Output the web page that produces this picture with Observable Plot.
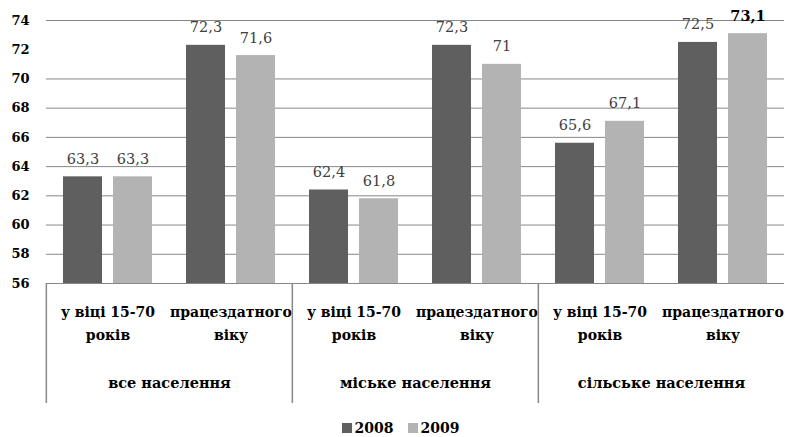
<!DOCTYPE html>
<html>
<head>
<meta charset="utf-8">
<script src="https://cdn.jsdelivr.net/npm/d3@7"></script>
<script src="https://cdn.jsdelivr.net/npm/@observablehq/plot@0.6"></script>
<style>
  body { margin: 0; background: #fff; font-family: "DejaVu Serif", serif; }
  #chart svg { display: block; }
  .legend { display: flex; justify-content: center; align-items: center; height: 19px; margin-left: 16px;
            font-family: "DejaVu Serif", serif; font-weight: bold; font-size: 14px; color: #000; }
  .legend span.sw { display: inline-block; width: 10px; height: 10px; margin-right: 3px; }
  .legend span.item { display: inline-flex; align-items: center; margin: 0 7px; }
</style>
</head>
<body>
<div id="chart"></div>
<div class="legend" id="legend"></div>
<script>
const groups = ["все населення", "міське населення", "сільське населення"];
const subcats = ["у віці 15-70\nроків", "працездатного\nвіку"];
const years = ["2008", "2009"];
const values2008 = [63.3, 72.3, 62.4, 72.3, 65.6, 72.5];
const values2009 = [63.3, 71.6, 61.8, 71, 67.1, 73.1];
const yTicks = [56, 58, 60, 62, 64, 66, 68, 70, 72, 74];
const gridTicks = [58, 60, 62, 64, 66, 68, 70, 74];
const colors = ["#5f5f5f", "#b3b3b3"];

const keys = [];
const subRows = [];
groups.forEach((g, gi) => subcats.forEach((s, si) => {
  const key = gi + "-" + si;
  keys.push(key);
  subRows.push({key, sub: s, group: g});
}));
const rows = [];
subRows.forEach((r, i) => {
  rows.push({key: r.key, year: years[0], value: values2008[i]});
  rows.push({key: r.key, year: years[1], value: values2009[i]});
});
const groupRows = groups.map((g, gi) => ({group: g, key: gi + "-0"}));
const maxVal = d3.max(rows, d => d.value);
const fmt = v => String(v).replace(".", ",");

const facetWidth = (785 - 45) / keys.length;
const FONT = "DejaVu Serif";

const plot = Plot.plot({
  width: 785,
  height: 418,
  marginTop: 20,
  marginBottom: 135,
  marginLeft: 45,
  marginRight: 0,
  style: {fontFamily: "DejaVu Serif, serif", background: "#fff"},
  fx: {domain: keys, padding: 0, axis: null, label: null},
  x: {domain: years, paddingInner: 0.22, paddingOuter: 0.32, axis: null, label: null},
  y: {domain: [56, 74], axis: null, label: null},
  color: {domain: years, range: colors},
  marks: [
    Plot.ruleY(gridTicks, {stroke: "#878787", strokeWidth: 1}),
    Plot.barY(rows, {fx: "key", x: "year", y1: 56, y2: "value", fill: "year"}),
    Plot.ruleY([56], {stroke: "#878787", strokeWidth: 1.2}),
    Plot.text(rows.filter(d => d.value !== maxVal), {
      fx: "key", x: "year", y: "value", text: d => fmt(d.value),
      lineAnchor: "bottom", dy: -13, fontSize: 14.5, fontFamily: FONT, fill: "#404040"
    }),
    Plot.text(rows.filter(d => d.value === maxVal), {
      fx: "key", x: "year", y: "value", text: d => fmt(d.value),
      lineAnchor: "bottom", dy: -13, fontSize: 14.5, fontFamily: FONT, fontWeight: "bold", fill: "#000"
    }),
    Plot.axisY({ticks: yTicks, tickSize: 0, tickPadding: 17, label: null, fontSize: 13, fontFamily: FONT, fontWeight: "bold", fill: "#000"}),
    Plot.text(subRows, {
      fx: "key", text: "sub", frameAnchor: "bottom", lineAnchor: "top",
      dy: 18, lineHeight: 1.6, fontSize: 14, fontFamily: FONT, fontWeight: "bold", fill: "#000",
      style: "letter-spacing:-0.4px"
    }),
    Plot.text(groupRows, {
      fx: "key", text: "group", frameAnchor: "bottom-right", textAnchor: "middle",
      lineAnchor: "middle", dy: 100, fontSize: 14.5, fontFamily: FONT, fontWeight: "bold", fill: "#000"
    }),
    Plot.ruleX(groupRows, {
      fx: "key", x: null, dx: -facetWidth / 2, stroke: "#878787", strokeWidth: 1.5,
      insetTop: 263, insetBottom: -120
    })
  ]
});
document.getElementById("chart").appendChild(plot);

const legend = document.getElementById("legend");
years.forEach((y, i) => {
  const item = document.createElement("span");
  item.className = "item";
  const sw = document.createElement("span");
  sw.className = "sw";
  sw.style.background = colors[i];
  item.appendChild(sw);
  item.appendChild(document.createTextNode(y));
  legend.appendChild(item);
});
</script>
</body>
</html>
